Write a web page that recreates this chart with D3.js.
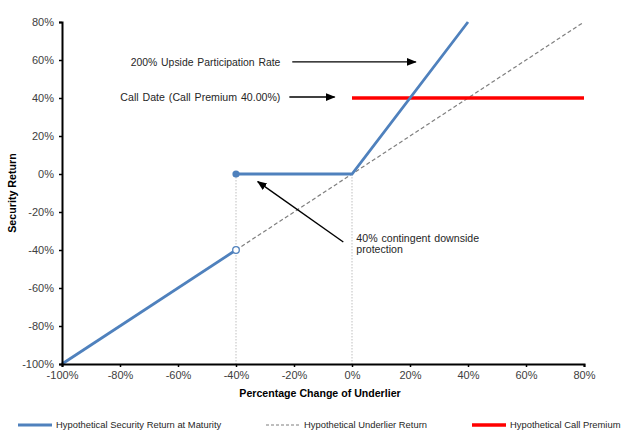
<!DOCTYPE html>
<html>
<head>
<meta charset="utf-8">
<script src="https://cdn.jsdelivr.net/npm/d3@7"></script>
<style>
  body { margin: 0; background: #fff; }
  svg text { font-family: "Liberation Sans", Arial, sans-serif; }
</style>
</head>
<body>
<script>
// series values (percent)
const securityLowX = [-100, -40];
const securityLowY = [-100, -40];
const securityHighX = [-40, 0, 40];
const securityHighY = [0, 0, 80];
const underlierX = [-40, 80];
const underlierY = [-40, 80];
const premiumX = [0, 80];
const premiumY = [40, 40];
const guideX = [-40, 0];
const xTicks = [-100, -80, -60, -40, -20, 0, 20, 40, 60, 80];
const yTicks = [-100, -80, -60, -40, -20, 0, 20, 40, 60, 80];
const legendLabels = ['Hypothetical Security Return at Maturity', 'Hypothetical Underlier Return', 'Hypothetical Call Premium'];

const W = 632, H = 437;
const margin = { top: 22, right: 48, bottom: 73, left: 62 };
const width = W - margin.left - margin.right;
const height = H - margin.top - margin.bottom;

const x = d3.scaleLinear().domain([-100, 80]).range([0, width]);
const y = d3.scaleLinear().domain([-100, 80]).range([height, 0]);
const pct = (d) => d + '%';
const zip = (xs, ys) => xs.map((v, i) => [v, ys[i]]);
const line = d3.line().x((d) => x(d[0])).y((d) => y(d[1]));

const svg = d3.select('body').append('svg')
  .attr('width', W)
  .attr('height', H);

const g = svg.append('g')
  .attr('transform', 'translate(' + margin.left + ',' + margin.top + ')');

// vertical dotted guides
g.selectAll('.guide')
  .data(guideX)
  .enter()
  .append('line')
  .attr('x1', (d) => x(d))
  .attr('x2', (d) => x(d))
  .attr('y1', y(0))
  .attr('y2', y(-100))
  .attr('stroke', '#bfbfbf')
  .attr('stroke-width', 1)
  .attr('stroke-dasharray', '1.5,1.5');

// underlier return
g.append('path')
  .attr('d', line(zip(underlierX, underlierY)))
  .attr('fill', 'none')
  .attr('stroke', '#7f7f7f')
  .attr('stroke-width', 1.2)
  .attr('stroke-dasharray', '4,2.5');

// call premium
g.append('path')
  .attr('d', line(zip(premiumX, premiumY)))
  .attr('fill', 'none')
  .attr('stroke', '#ff0000')
  .attr('stroke-width', 3.5);

// security return
[zip(securityLowX, securityLowY), zip(securityHighX, securityHighY)].forEach((pts) => {
  g.append('path')
    .attr('d', line(pts))
    .attr('fill', 'none')
    .attr('stroke', '#4f81bd')
    .attr('stroke-width', 2.8);
});

g.append('circle')
  .attr('cx', x(securityHighX[0]))
  .attr('cy', y(securityHighY[0]))
  .attr('r', 3.6)
  .attr('fill', '#4f81bd');

g.append('circle')
  .attr('cx', x(securityLowX[1]))
  .attr('cy', y(securityLowY[1]))
  .attr('r', 3.3)
  .attr('fill', '#fff')
  .attr('stroke', '#4f81bd')
  .attr('stroke-width', 1.3);

// axes
const xAxis = g.append('g')
  .attr('transform', 'translate(0,' + height + ')')
  .call(d3.axisBottom(x).tickValues(xTicks).tickFormat(pct).tickSize(3).tickPadding(4));
const yAxis = g.append('g')
  .call(d3.axisLeft(y).tickValues(yTicks).tickFormat(pct).tickSize(3).tickPadding(5));

[xAxis, yAxis].forEach((a) => {
  a.select('.domain').attr('stroke', '#000').attr('stroke-width', 2);
  a.selectAll('.tick line').attr('stroke', '#000').attr('stroke-width', 1.5);
  a.selectAll('.tick text').attr('fill', '#404040').style('font-size', '11px');
});

g.append('text')
  .attr('x', width / 2 - 3)
  .attr('y', height + 33)
  .attr('text-anchor', 'middle')
  .style('font-size', '10.6px')
  .style('font-weight', 'bold')
  .text('Percentage Change of Underlier');

g.append('text')
  .attr('transform', 'translate(' + (-46) + ',' + (height / 2) + ') rotate(-90)')
  .attr('text-anchor', 'middle')
  .style('font-size', '10.7px')
  .style('font-weight', 'bold')
  .text('Security Return');

// annotations
svg.append('defs').append('marker')
  .attr('id', 'arrow')
  .attr('viewBox', '0 0 10 10')
  .attr('refX', 9)
  .attr('refY', 5)
  .attr('markerWidth', 7)
  .attr('markerHeight', 7)
  .attr('orient', 'auto')
  .append('path')
  .attr('d', 'M0,1 L10,5 L0,9 Z')
  .attr('fill', '#000');

const arrows = [
  [[-20.6, 59], [22, 59]],
  [[-21.6, 40.5], [-6, 40.5]],
  [[-3, -35.8], [-32.5, -4]]
];
arrows.forEach((a) => {
  g.append('line')
    .attr('x1', x(a[0][0])).attr('y1', y(a[0][1]))
    .attr('x2', x(a[1][0])).attr('y2', y(a[1][1]))
    .attr('stroke', '#000')
    .attr('stroke-width', 1.4)
    .attr('marker-end', 'url(#arrow)');
});

const notes = [
  { x: -24.7, y: 59, anchor: 'end', size: 10.4, text: '200% Upside Participation Rate' },
  { x: -24.7, y: 40.5, anchor: 'end', size: 10.6, text: 'Call Date (Call Premium 40.00%)' },
  { x: 1.5, y: -33.7, anchor: 'start', size: 10.6, text: '40% contingent downside' },
  { x: 1.5, y: -39.5, anchor: 'start', size: 10.6, text: 'protection' }
];
g.selectAll('.note')
  .data(notes)
  .enter()
  .append('text')
  .attr('x', (d) => x(d.x))
  .attr('y', (d) => y(d.y))
  .attr('dy', '0.35em')
  .attr('text-anchor', (d) => d.anchor)
  .attr('fill', '#262626')
  .style('font-size', (d) => d.size + 'px')
  .style('word-spacing', '1px')
  .text((d) => d.text);

// legend
const legendX = [18, 266, 472];
const legend = svg.append('g').attr('transform', 'translate(0,425)');
legendLabels.forEach((label, i) => {
  const item = legend.append('g').attr('transform', 'translate(' + legendX[i] + ',0)');
  const ln = item.append('line')
    .attr('x1', 0).attr('x2', 34).attr('y1', 0).attr('y2', 0);
  if (i === 0) ln.attr('stroke', '#4f81bd').attr('stroke-width', 2.8);
  if (i === 1) ln.attr('stroke', '#7f7f7f').attr('stroke-width', 1.2).attr('stroke-dasharray', '3,2');
  if (i === 2) ln.attr('stroke', '#ff0000').attr('stroke-width', 3.5);
  item.append('text')
    .attr('x', 38)
    .attr('dy', '0.35em')
    .attr('fill', '#262626')
    .style('font-size', '9.4px')
    .text(label);
});
</script>
</body>
</html>
